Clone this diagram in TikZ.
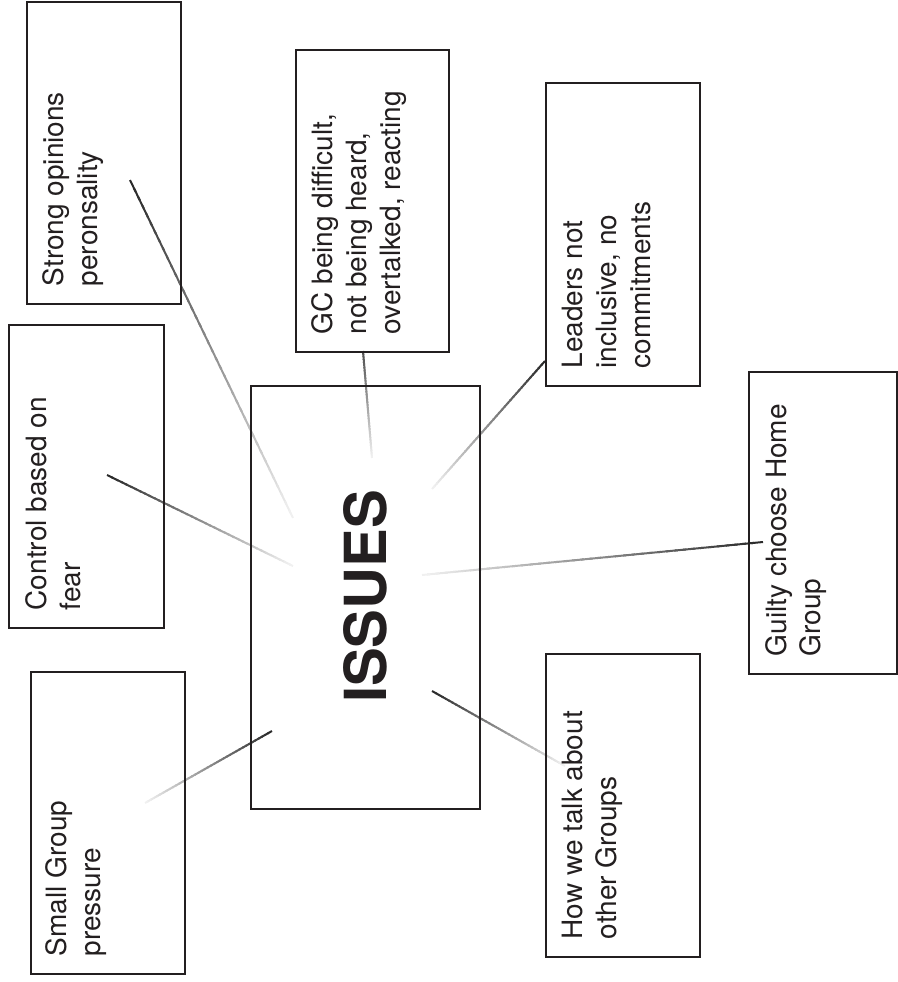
\documentclass[tikz,border=0pt]{standalone}
\usepackage{fontspec}
\setmainfont{TeX Gyre Heros}
\usetikzlibrary{calc}
\definecolor{ink}{HTML}{231F20}
\definecolor{lnDark}{HTML}{262626}
\definecolor{lnLight}{HTML}{F2F2F2}
\tikzset{
  boxnode/.style={draw=ink, line width=2pt, rectangle, inner sep=0pt, anchor=north west},
  lbl/.style={rotate=90, anchor=north west, inner sep=0pt, align=left, text=ink,
              font=\fontsize{28}{34}\selectfont},
  issuestext/.style={rotate=90, inner sep=0pt, text=ink,
              font=\fontsize{58}{60}\selectfont\bfseries},
}
% #1 dark end, #2 light end, #3 start percentage of dark colour
\newcommand\gradline[3]{%
  \foreach \k in {0,...,39}{%
    \pgfmathsetmacro\pa{\k/40}%
    \pgfmathsetmacro\pb{min(1,(\k+1.4)/40)}%
    \pgfmathtruncatemacro\cc{#3*(1-(\k+0.5)/40)}%
    \draw[line width=2pt, line cap=butt, lnDark!\cc!lnLight] ($(#1)!\pa!(#2)$) -- ($(#1)!\pb!(#2)$);
  }}
\begin{document}
\begin{tikzpicture}[x=1pt,y=-1pt]
\useasboundingbox (0,0) rectangle (897,982);

% connector end points
\coordinate (c1a) at (130,180);  \coordinate (c1b) at (293,518);
\coordinate (c2a) at (363,351);  \coordinate (c2b) at (372,458);
\coordinate (c3a) at (545,361);  \coordinate (c3b) at (432,489);
\coordinate (c4a) at (107,475);  \coordinate (c4b) at (293,566);
\coordinate (c5a) at (763,542);  \coordinate (c5b) at (422,575);
\coordinate (c6a) at (272,731);  \coordinate (c6b) at (145,803);
\coordinate (c7a) at (432,691);  \coordinate (c7b) at (565,766);

% connectors (gradient)
\gradline{c1a}{c1b}{100}
\gradline{c2a}{c2b}{80}
\gradline{c3a}{c3b}{100}
\gradline{c4a}{c4b}{100}
\gradline{c5a}{c5b}{100}
\gradline{c6a}{c6b}{100}
\gradline{c7a}{c7b}{100}

% boxes
\node[boxnode, minimum width=154pt, minimum height=302pt] (strongbox)  at (26,1)   {};
\node[boxnode, minimum width=153pt, minimum height=302pt] (gcbox)      at (295,49)  {};
\node[boxnode, minimum width=154pt, minimum height=303pt] (leadbox)    at (545,82)  {};
\node[boxnode, minimum width=148pt, minimum height=302pt] (guiltybox)  at (748,371) {};
\node[boxnode, minimum width=155pt, minimum height=303pt] (controlbox) at (8,324)   {};
\node[boxnode, minimum width=229pt, minimum height=423pt] (issuesbox)  at (250,385) {};
\node[boxnode, minimum width=154pt, minimum height=302pt] (smallbox)   at (30,671)  {};
\node[boxnode, minimum width=154pt, minimum height=303pt] (howbox)     at (545,653) {};

% texts
\node[lbl] (strongtxt)  at ($(strongbox.south west)+(16,-18.5)$)  {Strong opinions\\peronsality};
\node[lbl] (gctxt)      at ($(gcbox.south west)+(16,-18.5)$)      {GC being difficult,\\not being heard,\\overtalked, reacting};
\node[lbl] (leadtxt)    at ($(leadbox.south west)+(17,-18.5)$)    {Leaders not\\inclusive, no\\commitments};
\node[lbl] (guiltytxt)  at ($(guiltybox.south west)+(17,-18.5)$)  {Guilty choose Home\\Group};
\node[lbl] (controltxt) at ($(controlbox.south west)+(17,-18.5)$) {Control based on\\fear};
\node[lbl] (smalltxt)   at ($(smallbox.south west)+(15,-18.5)$)   {Small Group\\pressure};
\node[lbl] (howtxt)     at ($(howbox.south west)+(17,-18.5)$)     {How we talk about\\other Groups};
\node[issuestext] (issues) at (365,596.5) {ISSUES};
\end{tikzpicture}
\end{document}
